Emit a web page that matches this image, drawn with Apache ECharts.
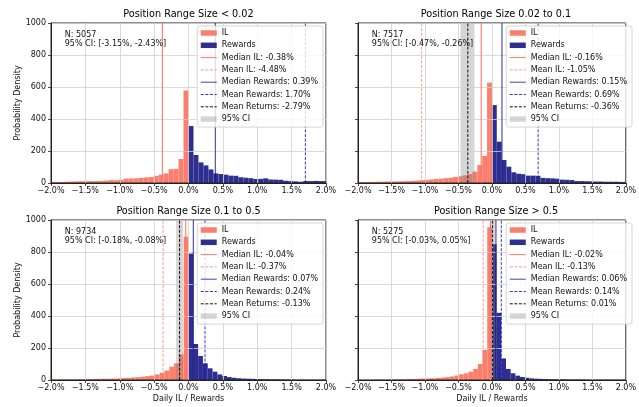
<!DOCTYPE html>
<html><head><meta charset="utf-8">
<script src="https://cdn.jsdelivr.net/npm/echarts@6/dist/echarts.min.js"></script>
<style>html,body{margin:0;padding:0;background:#fff}#c{width:639px;height:407px}</style>
</head><body><div id="c"></div>
<script>
// ---------------- data ----------------
const TITLES = ['Position Range Size < 0.02', 'Position Range Size 0.02 to 0.1', 'Position Range Size 0.1 to 0.5', 'Position Range Size > 0.5'];
const N_VALUES = [5057, 7517, 9734, 5275];
const CI_LOW = [-3.15, -0.47, -0.18, -0.03];
const CI_HIGH = [-2.43, -0.26, -0.08, 0.05];
const MEDIAN_IL = [-0.38, -0.16, -0.04, -0.02];
const MEAN_IL = [-4.48, -1.05, -0.37, -0.13];
const MEDIAN_REWARDS = [0.39, 0.15, 0.07, 0.06];
const MEAN_REWARDS = [1.70, 0.69, 0.24, 0.14];
const MEAN_RETURNS = [-2.79, -0.36, -0.13, 0.01];
// histogram bin width (percent) per panel; densities listed from 0% outward
const BIN_WIDTHS = [0.0725, 0.0725, 0.07, 0.07];
const IL_1 = [578, 150, 88, 86, 60, 52, 45, 37, 35, 32, 29, 28, 27, 20, 17, 18, 15, 13, 12, 12, 11, 11, 10, 9, 8, 7, 6, 6];
const REW_1 = [356, 175, 129, 110, 85, 60, 56, 52, 46, 45, 36, 33, 30, 25, 26, 29, 22, 21, 20, 14, 12, 10, 8, 12, 12, 13, 12, 12];
const IL_2 = [627, 169, 112, 71, 56, 48, 42, 38, 33, 30, 27, 25, 22, 20, 17, 15, 13, 12, 11, 10, 9, 9, 8, 8, 7, 7, 6, 6];
const REW_2 = [487, 258, 144, 102, 67, 58, 55, 46, 46, 45, 32, 30, 29, 27, 21, 20, 18, 12, 12, 11, 10, 9, 9, 8, 8, 8, 7, 6];
const IL_3 = [896, 160, 104, 83, 58, 45, 35, 28, 24, 21, 18, 16, 14, 13, 10, 9, 8, 8, 7, 6, 6, 5, 5, 4, 4, 4, 3, 3, 3];
const REW_3 = [790, 225, 150, 104, 73, 52, 35, 25, 18, 14, 11, 9, 8, 7, 6, 5, 5, 4, 4, 3, 3, 3, 2, 2, 2, 2, 2, 2, 2];
const IL_4 = [955, 188, 100, 69, 52, 42, 36, 28, 22, 18, 15, 13, 11, 10, 9, 8, 7, 6, 5, 5, 4, 4, 3, 3, 3, 2, 2, 2, 2];
const REW_4 = [848, 420, 135, 69, 42, 27, 19, 14, 10, 8, 7, 6, 5, 5, 4, 4, 3, 3, 3, 3, 2, 2, 2, 2, 2, 2, 2, 2, 2];
const IL_ALL = [IL_1, IL_2, IL_3, IL_4];
const REW_ALL = [REW_1, REW_2, REW_3, REW_4];
const X_MIN = -2, X_MAX = 2, X_STEP = 0.5;
const Y_MIN = 0, Y_MAX = 1000, Y_STEP = 200;

// ---------------- layout / style ----------------
const FONT = 'DejaVu Sans';
const GRIDS = [
  {left: 51, top: 23, width: 275, height: 160},
  {left: 358, top: 23, width: 276, height: 160},
  {left: 51, top: 220, width: 275, height: 160},
  {left: 358, top: 220, width: 276, height: 160}
];
const C_IL = '#fb7f6c';
const C_REW = '#2e2e90';
const C_CI = 'rgba(128,128,128,0.32)';

function pct(v) { return (v < 0 ? '\u2212' : '') + Math.abs(v).toFixed(1) + '%'; }
function f2(v) { return v.toFixed(2); }

function rectItem(params, api, x0, x1, y0, y1) {
  const p0 = api.coord([x0, y1]);
  const p1 = api.coord([x1, y0]);
  const shape = echarts.graphic.clipRectByRect(
    {x: p0[0], y: p0[1], width: p1[0] - p0[0], height: p1[1] - p0[1]},
    {x: params.coordSys.x, y: params.coordSys.y, width: params.coordSys.width, height: params.coordSys.height});
  return shape && {type: 'rect', shape: shape, style: {fill: api.visual('color')}};
}
function renderBar(params, api) {
  return rectItem(params, api, api.value(0), api.value(1), 0, api.value(2));
}
function renderSpan(params, api) {
  return rectItem(params, api, api.value(0), api.value(1), Y_MIN, Y_MAX);
}

const grid = [], xAxis = [], yAxis = [], series = [], legend = [], graphic = [];
for (let i = 0; i < 4; i++) {
  const g = GRIDS[i];
  const isLeft = (i % 2 === 0), isBottom = (i >= 2);
  grid.push(Object.assign({show: true, borderColor: '#222', borderWidth: 1, backgroundColor: 'transparent', z: 3}, g));
  xAxis.push({
    gridIndex: i, type: 'value', min: X_MIN, max: X_MAX, interval: X_STEP, z: 3,
    axisLine: {show: true, onZero: false, lineStyle: {color: '#222', width: 1}},
    axisTick: {show: true, length: 3, lineStyle: {color: '#222', width: 0.8}},
    axisLabel: {formatter: pct, fontSize: 8, fontFamily: FONT, color: '#111', margin: 4, showMinLabel: true, showMaxLabel: true},
    splitLine: {show: true, lineStyle: {color: '#d0d0d0', width: 0.8}},
    name: isBottom ? 'Daily IL / Rewards' : '', nameLocation: 'middle', nameGap: 15,
    nameTextStyle: {fontSize: 8, fontFamily: FONT, color: '#111'}
  });
  yAxis.push({
    gridIndex: i, type: 'value', min: Y_MIN, max: Y_MAX, interval: Y_STEP, z: 3,
    axisLine: {show: true, onZero: false, lineStyle: {color: '#222', width: 1}},
    axisTick: {show: true, length: 3, lineStyle: {color: '#222', width: 0.8}},
    axisLabel: {show: isLeft, formatter: v => String(v), fontSize: 8, fontFamily: FONT, color: '#111', margin: 5},
    splitLine: {show: true, lineStyle: {color: '#d0d0d0', width: 0.8}},
    name: isLeft ? 'Probability Density' : '', nameLocation: 'middle', nameGap: 23, nameRotate: 90,
    nameTextStyle: {fontSize: 8, fontFamily: FONT, color: '#111'}
  });

  const w = BIN_WIDTHS[i];
  const ilData = IL_ALL[i].map((h, k) => [-(k + 1) * w, -k * w, h]);
  const rwData = REW_ALL[i].map((h, k) => [k * w, (k + 1) * w, h]);
  series.push({type: 'custom', name: 'IL', xAxisIndex: i, yAxisIndex: i, data: ilData, renderItem: renderBar,
    encode: {x: [0, 1], y: 2}, itemStyle: {color: C_IL}, z: 1, silent: true});
  series.push({type: 'custom', name: 'Rewards', xAxisIndex: i, yAxisIndex: i, data: rwData, renderItem: renderBar,
    encode: {x: [0, 1], y: 2}, itemStyle: {color: C_REW}, z: 1, silent: true});

  const lines = [
    {name: 'Median IL: ' + f2(MEDIAN_IL[i]) + '%', v: MEDIAN_IL[i], color: '#fa7a66', type: 'solid', width: 1.1},
    {name: 'Mean IL: ' + f2(MEAN_IL[i]) + '%', v: MEAN_IL[i], color: 'rgba(250,120,105,0.75)', type: [3, 1.6], width: 1},
    {name: 'Median Rewards: ' + f2(MEDIAN_REWARDS[i]) + '%', v: MEDIAN_REWARDS[i], color: 'rgba(20,20,140,0.8)', type: 'solid', width: 1.1},
    {name: 'Mean Rewards: ' + f2(MEAN_REWARDS[i]) + '%', v: MEAN_REWARDS[i], color: 'rgba(20,20,200,0.85)', type: [3, 1.6], width: 1},
    {name: 'Mean Returns: ' + f2(MEAN_RETURNS[i]) + '%', v: MEAN_RETURNS[i], color: '#111', type: [3, 1.6], width: 1}
  ];
  lines.forEach(L => {
    series.push({type: 'line', name: L.name, xAxisIndex: i, yAxisIndex: i, data: [[L.v, Y_MIN], [L.v, Y_MAX]],
      symbol: 'none', lineStyle: {color: L.color, width: L.width, type: L.type}, itemStyle: {color: L.color},
      z: 4, silent: true, clip: true});
  });
  series.push({type: 'custom', name: '95% CI', xAxisIndex: i, yAxisIndex: i, data: [[CI_LOW[i], CI_HIGH[i]]],
    renderItem: renderSpan, encode: {x: [0, 1]}, itemStyle: {color: C_CI}, z: 2, silent: true});

  legend.push({
    orient: 'vertical', right: isLeft ? 316 : 7, top: g.top + 3,
    padding: [3, 5, 4, 3], itemGap: 4.3, itemWidth: 16, itemHeight: 5.5,
    backgroundColor: 'rgba(255,255,255,0.8)', borderColor: '#cccccc', borderWidth: 0.8, borderRadius: 2.5,
    selectedMode: false, z: 10,
    textStyle: {fontSize: 8, fontFamily: FONT, color: '#111', lineHeight: 8},
    data: [{name: 'IL', icon: 'rect'}, {name: 'Rewards', icon: 'rect'}]
      .concat(lines.map(L => ({name: L.name, itemStyle: {opacity: 0},
        lineStyle: {width: 1, color: L.color, type: L.type}})))
      .concat([{name: '95% CI', icon: 'rect'}])
  });

  graphic.push({type: 'text', x: g.left + g.width / 2, y: g.top - 8.3, z: 10,
    style: {text: TITLES[i], align: 'center', verticalAlign: 'middle', fontSize: 9.7, fontFamily: FONT, fill: '#000'}});
  graphic.push({type: 'text', x: g.left + g.width * 0.05, y: g.top + 7, z: 10,
    style: {text: 'N: ' + N_VALUES[i] + '\n95% CI: [' + f2(CI_LOW[i]) + '%, ' + f2(CI_HIGH[i]) + '%]',
      align: 'left', verticalAlign: 'top', fontSize: 8, lineHeight: 9.4, fontFamily: FONT, fill: '#111'}});
}

const chart = echarts.init(document.getElementById('c'), null, {renderer: 'canvas'});
chart.setOption({animation: false, backgroundColor: '#fff', grid, xAxis, yAxis, series, legend, graphic});
</script>
</body></html>
